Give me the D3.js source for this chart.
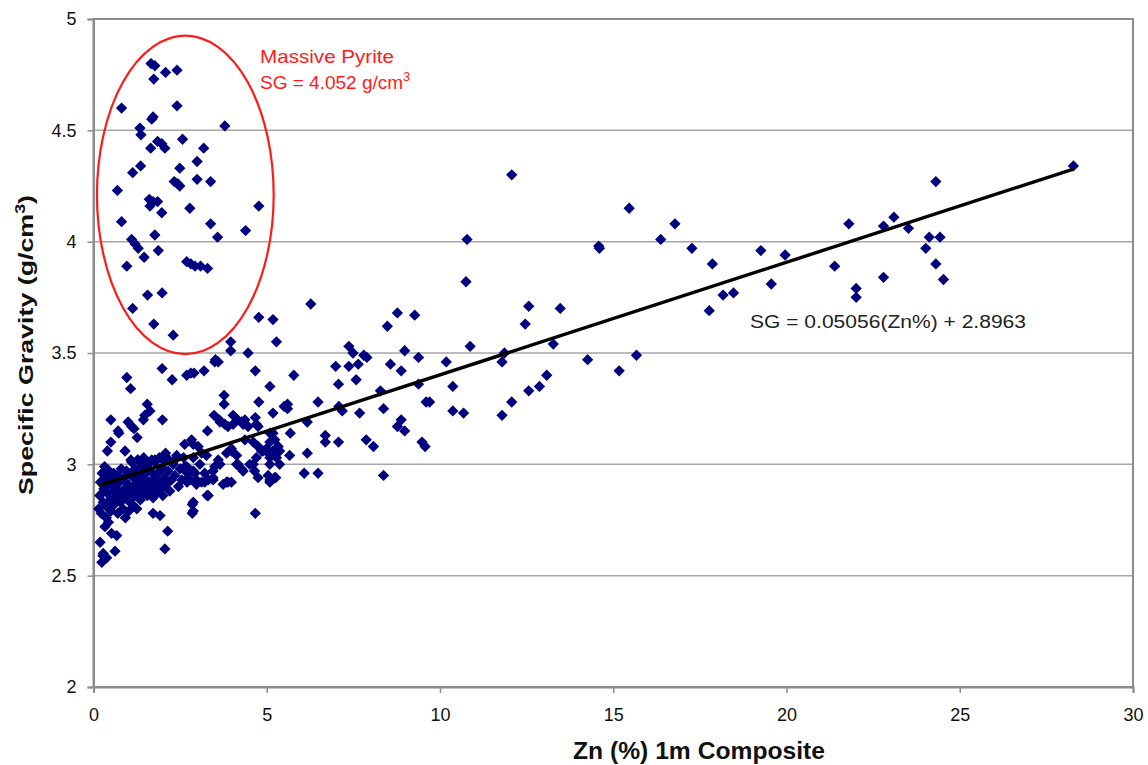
<!DOCTYPE html>
<html>
<head>
<meta charset="utf-8">
<script src="https://cdn.jsdelivr.net/npm/d3@7/dist/d3.min.js"></script>
<style>
  html, body { margin: 0; padding: 0; background: #fff; }
  svg { display: block; font-family: "Liberation Sans", Arial, sans-serif; }
</style>
</head>
<body>
<svg id="chart" width="1148" height="765"></svg>
<script>
// Zn grade (%) of each 1 m composite
const zn = [
  // massive pyrite group
  1.66,1.77,1.74,2.08,2.41,0.81,2.41,1.68,1.72,3.79,1.34,1.37,2.57,1.85,1.97,2.06,1.65,3.18,2.99,1.36,
  1.13,2.49,2.33,2.43,2.49,2.99,3.38,0.69,1.61,1.72,1.85,1.63,1.97,2.78,4.77,0.81,3.38,4.39,1.77,3.58,
  1.10,1.20,1.29,1.87,1.46,0.96,2.69,2.81,2.93,3.09,3.29,1.56,1.98,1.13,1.74,2.30,4.77,5.18,5.28,3.96,
  3.96,4.46,3.52,
  // low-grade samples
  1.98,0.96,1.07,2.27,2.69,2.81,2.90,3.19,3.50,3.60,4.67,5.09,3.77,3.77,4.77,5.18,5.50,1.55,1.63,1.48,
  1.44,1.99,0.50,1.00,1.10,1.17,0.71,1.26,0.50,0.40,0.91,3.48,3.63,3.79,3.88,4.03,4.16,4.27,3.29,2.83,
  2.88,4.37,4.46,4.67,4.75,4.37,4.61,4.75,4.99,5.18,5.33,3.98,4.13,3.60,3.50,3.26,3.02,3.12,2.88,2.64,
  2.78,2.93,2.73,2.97,3.12,3.31,3.45,3.74,3.88,4.13,4.27,4.61,4.65,4.75,5.04,5.09,5.23,3.28,2.85,2.85,
  1.72,1.92,2.14,2.06,4.67,0.19,0.28,0.24,0.38,0.62,0.52,0.67,0.33,0.43,0.37,0.27,
  0.73,2.63,1.08,1.28,1.48,1.77,2.06,2.35,
  3.65,4.03,4.32,4.70,5.09,5.23,2.69,2.88,3.07,3.21,3.45,3.65,3.84,3.98,4.17,4.32,4.51,4.70,4.85,5.04,
  5.09,5.28,2.78,2.97,3.21,3.45,3.84,3.98,5.09,5.23,2.88,2.88,3.31,
  0.15,0.18,0.20,0.22,0.25,0.28,0.30,0.32,0.35,0.38,0.40,0.42,0.45,0.48,0.50,0.52,0.55,0.58,0.60,0.62,
  0.65,0.68,0.70,0.72,0.75,0.78,0.80,0.82,0.85,0.88,0.90,0.92,0.95,0.98,1.00,1.02,1.05,1.08,1.10,1.12,
  1.15,1.18,1.20,1.22,1.25,1.28,1.30,1.32,1.35,1.38,1.40,1.42,1.45,1.48,1.50,1.52,1.55,1.58,1.60,1.62,
  1.65,1.68,1.70,1.72,1.75,1.78,1.80,1.85,1.88,1.90,1.95,1.98,2.00,2.05,2.08,2.10,2.15,2.18,2.20,2.25,
  2.30,2.35,2.40,2.45,2.50,2.55,2.60,2.65,2.70,
  // medium grade
  10.75,6.27,8.77,9.27,8.48,10.87,7.37,7.49,7.80,7.89,7.64,7.37,6.99,8.98,9.38,8.57,8.88,10.18,5.78,7.07,
  7.58,10.37,9.38,8.28,11.86,11.79,12.07,11.79,6.48,5.60,5.60,7.08,7.18,7.68,8.37,9.60,9.70,10.37,10.68,6.17,
  5.68,5.18,5.09,4.89,5.09,5.37,5.37,5.66,6.69,6.69,7.07,7.87,8.08,8.77,8.88,8.98,9.48,9.57,6.17,6.08,
  6.48,5.26,8.37,
  // high grade
  12.07,15.46,16.78,16.37,14.58,14.60,17.27,17.86,19.26,19.96,19.56,18.17,18.47,17.77,12.56,13.47,12.46,13.27,14.26,15.17,
  15.67,13.08,12.87,12.56,10.78,
  28.28,24.31,21.80,22.80,23.10,23.52,24.12,24.43,24.02,21.39,24.31,22.80,24.53,22.01,22.01
];

// measured specific gravity (g/cm3), same order as zn
const sg = [
  4.80,4.79,4.73,4.76,4.77,4.60,4.61,4.55,4.56,4.52,4.51,4.48,4.46,4.45,4.44,4.42,4.42,4.42,4.36,4.34,
  4.31,4.33,4.27,4.26,4.25,4.28,4.27,4.23,4.19,4.18,4.18,4.16,4.13,4.15,4.16,4.09,4.08,4.05,4.03,4.02,
  4.01,3.99,3.97,3.96,3.93,3.89,3.91,3.90,3.89,3.89,3.88,3.76,3.77,3.70,3.63,3.58,3.66,3.65,3.55,3.55,
  3.51,3.50,3.47,
  3.43,3.39,3.34,3.38,3.40,3.41,3.41,3.42,3.46,3.46,3.42,3.35,3.31,3.27,3.28,3.23,3.26,3.27,3.24,3.22,
  3.20,3.20,3.20,3.19,3.17,3.16,3.15,3.12,3.10,3.06,3.06,3.22,3.20,3.18,3.17,3.22,3.20,3.19,3.15,3.11,
  3.09,3.20,3.17,3.21,3.17,3.11,3.10,3.08,3.07,3.06,3.08,3.07,3.04,3.02,2.99,3.04,3.08,3.05,3.03,2.99,
  2.97,2.96,2.94,2.93,2.92,2.93,2.94,2.91,2.92,3.00,2.98,3.00,2.97,2.94,2.95,2.92,2.94,2.86,2.82,2.78,
  2.78,2.77,2.70,2.62,2.78,2.65,2.60,2.56,2.58,2.61,2.69,2.68,2.72,2.74,2.76,2.59,
  3.14,3.09,3.02,3.02,3.01,3.02,3.01,3.02,
  3.19,3.18,3.18,3.18,3.14,3.11,2.99,2.97,3.00,2.96,2.97,3.00,3.05,3.06,3.00,2.97,3.00,3.03,3.06,3.05,
  3.00,3.03,2.93,2.91,2.92,2.93,2.92,2.92,2.93,2.94,2.83,2.79,2.86,
  2.80,2.86,2.92,2.78,2.96,2.83,2.89,2.99,2.94,2.81,2.87,2.91,2.97,2.84,2.79,2.93,2.88,2.96,2.82,2.90,
  2.85,2.95,2.78,2.88,2.92,2.83,2.98,2.86,2.80,2.94,2.89,2.76,2.97,2.84,2.91,2.79,2.87,2.95,3.01,2.82,
  2.90,2.86,2.98,2.93,2.80,3.02,2.88,2.95,2.84,2.91,2.99,2.87,3.03,2.93,2.89,2.96,2.86,3.00,2.92,2.88,
  2.97,3.02,2.90,2.85,2.94,3.01,2.87,2.96,2.92,3.03,2.89,2.98,2.86,2.94,3.05,2.91,2.97,3.02,2.88,2.93,
  3.00,2.95,3.04,2.90,2.98,2.93,3.03,2.97,2.92,
  3.82,3.72,3.68,3.67,3.62,3.53,3.53,3.50,3.49,3.48,3.45,3.44,3.44,3.51,3.48,3.45,3.42,3.46,3.40,3.36,
  3.38,3.35,3.36,3.33,3.50,3.46,3.28,3.22,3.28,3.27,3.25,3.26,3.24,3.23,3.25,3.28,3.28,3.24,3.23,3.19,
  3.14,3.14,3.10,3.06,3.03,3.06,3.00,3.04,3.13,3.10,3.10,3.11,3.08,3.17,3.20,3.15,3.10,3.08,3.05,2.96,
  2.96,2.94,2.95,
  4.30,4.15,4.08,4.01,3.98,3.97,3.97,3.90,3.96,3.94,3.81,3.76,3.77,3.69,3.71,3.70,3.63,3.54,3.47,3.42,
  3.49,3.40,3.35,3.33,4.01,
  4.34,4.27,4.08,4.07,4.11,4.06,4.02,4.02,3.97,3.89,3.90,3.84,3.83,3.79,3.75
];

// linear fit reported for the dataset
const slope = 0.05056;
const intercept = 2.8963;
const fitLabel = "SG = 0.05056(Zn%) + 2.8963";

const xTicks = [0, 5, 10, 15, 20, 25, 30];
const yTicks = [2, 2.5, 3, 3.5, 4, 4.5, 5];

const svg = d3.select("#chart");
const W = 1148, H = 765;
const m = { top: 19, right: 15, bottom: 78, left: 93.5 };
const iw = W - m.left - m.right, ih = H - m.top - m.bottom;

const x = d3.scaleLinear().domain([0, 30]).range([m.left, m.left + iw]);
const y = d3.scaleLinear().domain([2, 5]).range([m.top + ih, m.top]);

// horizontal gridlines
svg.append("g")
  .selectAll("line")
  .data(yTicks.filter(d => d > 2 && d < 5))
  .join("line")
  .attr("x1", m.left).attr("x2", m.left + iw)
  .attr("y1", d => y(d)).attr("y2", d => y(d))
  .attr("stroke", "#a6a6a6").attr("stroke-width", 1.5);

// plot frame
svg.append("rect")
  .attr("x", m.left).attr("y", m.top)
  .attr("width", iw).attr("height", ih)
  .attr("fill", "none").attr("stroke", "#8c8c8c").attr("stroke-width", 2);

// axes
const xAxis = svg.append("g")
  .attr("transform", `translate(0,${m.top + ih})`)
  .call(d3.axisBottom(x).tickValues(xTicks).tickSize(6).tickPadding(15).tickFormat(d3.format("d")));
const yAxis = svg.append("g")
  .attr("transform", `translate(${m.left},0)`)
  .call(d3.axisLeft(y).tickValues(yTicks).tickSize(6).tickPadding(11).tickFormat(d => String(d)));

[xAxis, yAxis].forEach(g => {
  g.select(".domain").attr("stroke", "#8c8c8c").attr("stroke-width", 2);
  g.selectAll(".tick line").attr("stroke", "#8c8c8c").attr("stroke-width", 1.5);
  g.selectAll(".tick text")
    .attr("fill", "#111")
    .style("font-size", "18px")
    .style("font-family", "'Liberation Sans', Arial, sans-serif");
});

// data points as diamonds
const pts = zn.map((v, i) => ({ zn: v, sg: sg[i] }));
const diamond = d3.symbol().type(d3.symbolSquare).size(64);
svg.append("g")
  .selectAll("path")
  .data(pts)
  .join("path")
  .attr("d", diamond)
  .attr("transform", d => `translate(${x(d.zn)},${y(d.sg)}) rotate(45)`)
  .attr("fill", "#00007f");

// trendline across the data range
const [xmin, xmax] = d3.extent(zn);
svg.append("line")
  .attr("x1", x(xmin)).attr("y1", y(slope * xmin + intercept))
  .attr("x2", x(xmax)).attr("y2", y(slope * xmax + intercept))
  .attr("stroke", "#000").attr("stroke-width", 3.4);

svg.append("text")
  .attr("x", 750).attr("y", 328)
  .attr("fill", "#222")
  .attr("textLength", 276).attr("lengthAdjust", "spacingAndGlyphs")
  .style("font-size", "18px")
  .text(fitLabel);

// massive pyrite outline and note
const ell = { cx: 2.65, cy: 4.21, rx: 2.55, ry: 0.715 };
svg.append("ellipse")
  .attr("cx", x(ell.cx)).attr("cy", y(ell.cy))
  .attr("rx", x(ell.rx) - x(0)).attr("ry", y(0) - y(ell.ry))
  .attr("fill", "none").attr("stroke", "#ff1a1a").attr("stroke-width", 2.2);

svg.append("text")
  .attr("x", 260).attr("y", 63)
  .attr("fill", "#ff1a1a")
  .attr("textLength", 134).attr("lengthAdjust", "spacingAndGlyphs")
  .style("font-size", "19px")
  .text("Massive Pyrite");
const note2 = svg.append("text")
  .attr("x", 260).attr("y", 89)
  .attr("fill", "#ff1a1a")
  .style("font-size", "19px");
note2.append("tspan").text("SG = 4.052 g/cm");
note2.append("tspan").attr("dy", -8).style("font-size", "13px").text("3");

// axis titles
svg.append("text")
  .attr("x", 699).attr("y", 759)
  .attr("text-anchor", "middle")
  .attr("fill", "#111")
  .attr("textLength", 252).attr("lengthAdjust", "spacingAndGlyphs")
  .style("font-size", "23px").style("font-weight", "bold")
  .text("Zn (%) 1m Composite");

const yt = svg.append("text")
  .attr("transform", `translate(33,345) rotate(-90)`)
  .attr("text-anchor", "middle")
  .attr("fill", "#111")
  .attr("textLength", 300).attr("lengthAdjust", "spacingAndGlyphs")
  .style("font-size", "21px").style("font-weight", "bold");
yt.append("tspan").text("Specific Gravity (g/cm");
yt.append("tspan").attr("dy", -8).style("font-size", "14px").text("3");
yt.append("tspan").attr("dy", 8).text(")");
</script>
</body>
</html>
